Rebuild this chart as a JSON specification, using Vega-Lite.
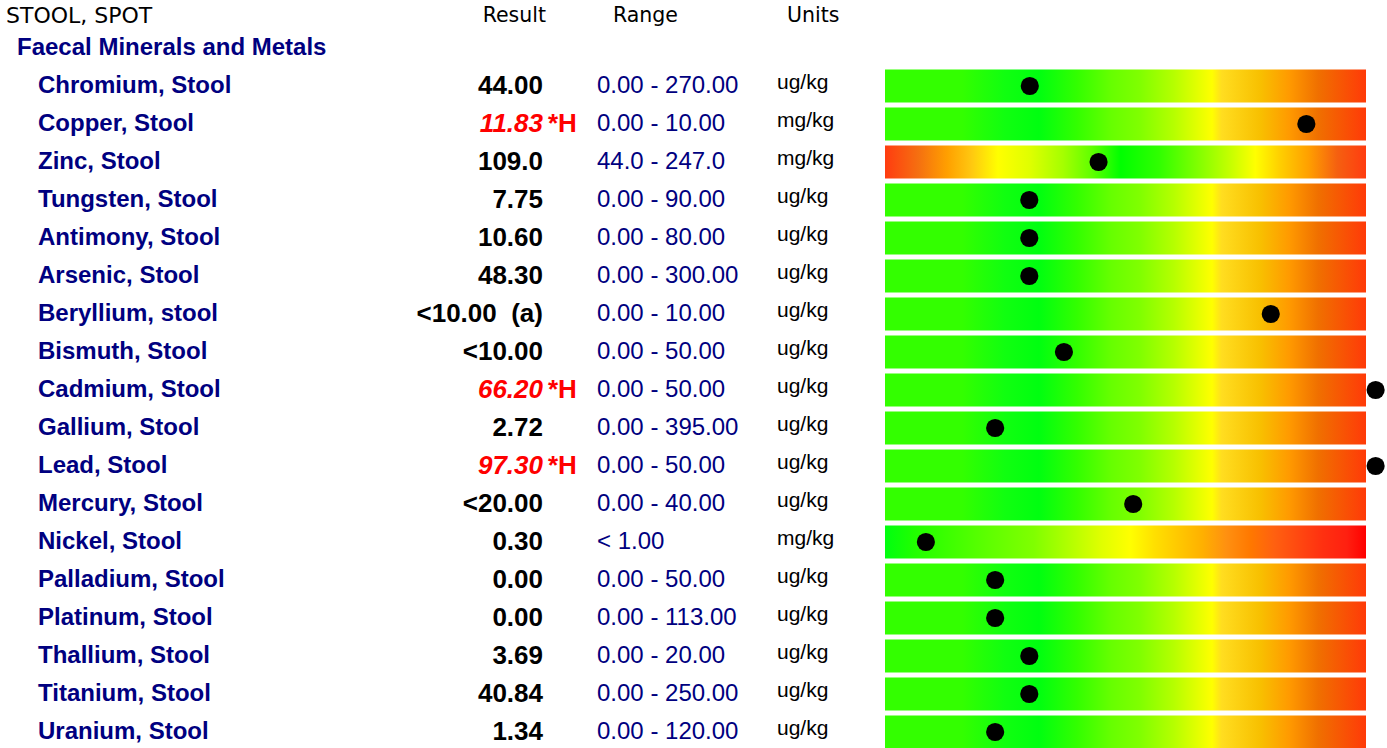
{
  "$schema": "https://vega.github.io/schema/vega-lite/v6.json",
  "background": "white",
  "padding": {"left": 6, "top": 4, "right": 0, "bottom": 0},
  "bounds": "flush",
  "spacing": 0,
  "config": {
    "view": {"stroke": null},
    "title": {"font": "DejaVu Sans", "fontWeight": "normal", "fontSize": 20.5, "color": "#000000", "frame": "group", "offset": 1.5}
  },
  "datasets": {
    "rows": [
      {"id": 0, "kind": "section", "name": "Faecal Minerals and Metals", "result": "", "flag": "", "high": false, "range": "", "units": "", "pos": null, "band": ""},
      {"id": 1, "kind": "item", "name": "Chromium, Stool", "result": "44.00", "flag": "", "high": false, "range": "0.00 - 270.00", "units": "ug/kg", "pos": 0.301, "band": "std"},
      {"id": 2, "kind": "item", "name": "Copper, Stool", "result": "11.83", "flag": "*H", "high": true, "range": "0.00 - 10.00", "units": "mg/kg", "pos": 0.876, "band": "std"},
      {"id": 3, "kind": "item", "name": "Zinc, Stool", "result": "109.0", "flag": "", "high": false, "range": "44.0 - 247.0", "units": "mg/kg", "pos": 0.444, "band": "zinc"},
      {"id": 4, "kind": "item", "name": "Tungsten, Stool", "result": "7.75", "flag": "", "high": false, "range": "0.00 - 90.00", "units": "ug/kg", "pos": 0.3, "band": "std"},
      {"id": 5, "kind": "item", "name": "Antimony, Stool", "result": "10.60", "flag": "", "high": false, "range": "0.00 - 80.00", "units": "ug/kg", "pos": 0.3, "band": "std"},
      {"id": 6, "kind": "item", "name": "Arsenic, Stool", "result": "48.30", "flag": "", "high": false, "range": "0.00 - 300.00", "units": "ug/kg", "pos": 0.3, "band": "std"},
      {"id": 7, "kind": "item", "name": "Beryllium, stool", "result": "<10.00 \u00a0(a)", "flag": "", "high": false, "range": "0.00 - 10.00", "units": "ug/kg", "pos": 0.802, "band": "std"},
      {"id": 8, "kind": "item", "name": "Bismuth, Stool", "result": "<10.00", "flag": "", "high": false, "range": "0.00 - 50.00", "units": "ug/kg", "pos": 0.372, "band": "std"},
      {"id": 9, "kind": "item", "name": "Cadmium, Stool", "result": "66.20", "flag": "*H", "high": true, "range": "0.00 - 50.00", "units": "ug/kg", "pos": 1.02, "band": "std"},
      {"id": 10, "kind": "item", "name": "Gallium, Stool", "result": "2.72", "flag": "", "high": false, "range": "0.00 - 395.00", "units": "ug/kg", "pos": 0.229, "band": "std"},
      {"id": 11, "kind": "item", "name": "Lead, Stool", "result": "97.30", "flag": "*H", "high": true, "range": "0.00 - 50.00", "units": "ug/kg", "pos": 1.02, "band": "std"},
      {"id": 12, "kind": "item", "name": "Mercury, Stool", "result": "<20.00", "flag": "", "high": false, "range": "0.00 - 40.00", "units": "ug/kg", "pos": 0.516, "band": "std"},
      {"id": 13, "kind": "item", "name": "Nickel, Stool", "result": "0.30", "flag": "", "high": false, "range": "< 1.00", "units": "mg/kg", "pos": 0.085, "band": "nickel"},
      {"id": 14, "kind": "item", "name": "Palladium, Stool", "result": "0.00", "flag": "", "high": false, "range": "0.00 - 50.00", "units": "ug/kg", "pos": 0.229, "band": "std"},
      {"id": 15, "kind": "item", "name": "Platinum, Stool", "result": "0.00", "flag": "", "high": false, "range": "0.00 - 113.00", "units": "ug/kg", "pos": 0.229, "band": "std"},
      {"id": 16, "kind": "item", "name": "Thallium, Stool", "result": "3.69", "flag": "", "high": false, "range": "0.00 - 20.00", "units": "ug/kg", "pos": 0.3, "band": "std"},
      {"id": 17, "kind": "item", "name": "Titanium, Stool", "result": "40.84", "flag": "", "high": false, "range": "0.00 - 250.00", "units": "ug/kg", "pos": 0.3, "band": "std"},
      {"id": 18, "kind": "item", "name": "Uranium, Stool", "result": "1.34", "flag": "", "high": false, "range": "0.00 - 120.00", "units": "ug/kg", "pos": 0.229, "band": "std"}
    ]
  },
  "hconcat": [
    {
      "width": 394, "height": 719.5,
      "title": {"text": "STOOL, SPOT", "anchor": "start", "fontSize": 22},
      "data": {"name": "rows"},
      "layer": [
        {
          "transform": [{"filter": "datum.kind === 'section'"}],
          "mark": {"type": "text", "x": 0, "dx": 11, "align": "left", "baseline": "middle", "font": "Liberation Sans", "fontWeight": "bold", "fontSize": 24, "color": "#000080"},
          "encoding": {
            "y": {"field": "id", "type": "ordinal", "axis": null, "scale": {"type": "band", "domain": [0,1,2,3,4,5,6,7,8,9,10,11,12,13,14,15,16,17,18], "paddingInner": 0.1316, "paddingOuter": 0.0329, "align": 1}},
            "text": {"field": "name"}
          }
        },
        {
          "transform": [{"filter": "datum.kind === 'item'"}],
          "mark": {"type": "text", "x": 0, "dx": 32, "align": "left", "baseline": "middle", "font": "Liberation Sans", "fontWeight": "bold", "fontSize": 24, "color": "#000080"},
          "encoding": {
            "y": {"field": "id", "type": "ordinal", "axis": null, "scale": {"type": "band", "domain": [0,1,2,3,4,5,6,7,8,9,10,11,12,13,14,15,16,17,18], "paddingInner": 0.1316, "paddingOuter": 0.0329, "align": 1}},
            "text": {"field": "name"}
          }
        }
      ]
    },
    {
      "width": 143, "height": 719.5,
      "title": {"text": "Result", "anchor": "end", "dx": 3, "dy": -1},
      "data": {"name": "rows"},
      "layer": [
        {
          "transform": [{"filter": "datum.kind === 'item' && !datum.high"}],
          "mark": {"type": "text", "x": "width", "align": "right", "baseline": "middle", "font": "Liberation Sans", "fontWeight": "bold", "fontSize": 26, "color": "#000000"},
          "encoding": {
            "y": {"field": "id", "type": "ordinal", "axis": null, "scale": {"type": "band", "domain": [0,1,2,3,4,5,6,7,8,9,10,11,12,13,14,15,16,17,18], "paddingInner": 0.1316, "paddingOuter": 0.0329, "align": 1}},
            "text": {"field": "result"}
          }
        },
        {
          "transform": [{"filter": "datum.high"}],
          "mark": {"type": "text", "x": "width", "align": "right", "baseline": "middle", "font": "Liberation Sans", "fontWeight": "bold", "fontStyle": "italic", "fontSize": 26, "color": "#ff0000"},
          "encoding": {
            "y": {"field": "id", "type": "ordinal", "axis": null, "scale": {"type": "band", "domain": [0,1,2,3,4,5,6,7,8,9,10,11,12,13,14,15,16,17,18], "paddingInner": 0.1316, "paddingOuter": 0.0329, "align": 1}},
            "text": {"field": "result"}
          }
        },
        {
          "transform": [{"filter": "datum.high"}],
          "mark": {"type": "text", "x": "width", "dx": 5, "align": "left", "baseline": "middle", "font": "Liberation Sans", "fontWeight": "bold", "fontSize": 26, "color": "#ff0000"},
          "encoding": {
            "y": {"field": "id", "type": "ordinal", "axis": null, "scale": {"type": "band", "domain": [0,1,2,3,4,5,6,7,8,9,10,11,12,13,14,15,16,17,18], "paddingInner": 0.1316, "paddingOuter": 0.0329, "align": 1}},
            "text": {"field": "flag"}
          }
        }
      ]
    },
    {
      "width": 234, "height": 719.5,
      "title": {"text": "Range", "anchor": "start", "dx": 70, "dy": -1},
      "data": {"name": "rows"},
      "transform": [{"filter": "datum.kind === 'item'"}],
      "mark": {"type": "text", "x": 0, "dx": 54, "align": "left", "baseline": "middle", "font": "Liberation Sans", "fontSize": 24, "color": "#000080"},
      "encoding": {
        "y": {"field": "id", "type": "ordinal", "axis": null, "scale": {"type": "band", "domain": [0,1,2,3,4,5,6,7,8,9,10,11,12,13,14,15,16,17,18], "paddingInner": 0.1316, "paddingOuter": 0.0329, "align": 1}},
        "text": {"field": "range"}
      }
    },
    {
      "width": 108, "height": 719.5,
      "title": {"text": "Units", "anchor": "start", "dx": 10, "dy": -1},
      "data": {"name": "rows"},
      "transform": [{"filter": "datum.kind === 'item'"}],
      "mark": {"type": "text", "x": 0, "dy": -3, "align": "left", "baseline": "middle", "font": "Liberation Sans", "fontSize": 21, "color": "#000000"},
      "encoding": {
        "y": {"field": "id", "type": "ordinal", "axis": null, "scale": {"type": "band", "domain": [0,1,2,3,4,5,6,7,8,9,10,11,12,13,14,15,16,17,18], "paddingInner": 0.1316, "paddingOuter": 0.0329, "align": 1}},
        "text": {"field": "units"}
      }
    },
    {
      "width": 481, "height": 719.5,
      "data": {"name": "rows"},
      "layer": [
        {
          "transform": [{"filter": "datum.band === 'std'"}],
          "mark": {"type": "bar", "color": {"gradient": "linear", "x1": 0, "x2": 1, "y1": 0, "y2": 0, "stops": [
            {"offset": 0, "color": "#33ff00"}, {"offset": 0.16, "color": "#33ff00"}, {"offset": 0.25, "color": "#10ff10"}, {"offset": 0.32, "color": "#00ff10"}, {"offset": 0.4, "color": "#33ff00"}, {"offset": 0.47, "color": "#66ff00"}, {"offset": 0.53, "color": "#80ff00"}, {"offset": 0.6, "color": "#b5ff00"}, {"offset": 0.68, "color": "#ffff00"}, {"offset": 0.7, "color": "#ffdd20"}, {"offset": 0.78, "color": "#f8c000"}, {"offset": 0.84, "color": "#ff9a00"}, {"offset": 0.9, "color": "#f07000"}, {"offset": 1, "color": "#ff3a08"}]}},
          "encoding": {
            "y": {"field": "id", "type": "ordinal", "axis": null, "scale": {"type": "band", "domain": [0,1,2,3,4,5,6,7,8,9,10,11,12,13,14,15,16,17,18], "paddingInner": 0.1316, "paddingOuter": 0.0329, "align": 1}},
            "x": {"datum": 0, "type": "quantitative", "axis": null, "scale": {"domain": [0, 1], "nice": false, "zero": false}},
            "x2": {"datum": 1}
          }
        },
        {
          "transform": [{"filter": "datum.band === 'zinc'"}],
          "mark": {"type": "bar", "color": {"gradient": "linear", "x1": 0, "x2": 1, "y1": 0, "y2": 0, "stops": [
            {"offset": 0, "color": "#ff3c10"}, {"offset": 0.07, "color": "#f57010"}, {"offset": 0.13, "color": "#ffa000"}, {"offset": 0.18, "color": "#ffc810"}, {"offset": 0.235, "color": "#ffff00"}, {"offset": 0.3, "color": "#e0ff00"}, {"offset": 0.37, "color": "#a5ff00"}, {"offset": 0.43, "color": "#60ff00"}, {"offset": 0.49, "color": "#00ff00"}, {"offset": 0.57, "color": "#30ff00"}, {"offset": 0.65, "color": "#80ff00"}, {"offset": 0.72, "color": "#c8ff00"}, {"offset": 0.77, "color": "#ffff00"}, {"offset": 0.82, "color": "#ffd000"}, {"offset": 0.88, "color": "#ffa000"}, {"offset": 0.94, "color": "#f56010"}, {"offset": 1, "color": "#ff3c10"}]}},
          "encoding": {
            "y": {"field": "id", "type": "ordinal", "axis": null, "scale": {"type": "band", "domain": [0,1,2,3,4,5,6,7,8,9,10,11,12,13,14,15,16,17,18], "paddingInner": 0.1316, "paddingOuter": 0.0329, "align": 1}},
            "x": {"datum": 0, "type": "quantitative", "axis": null, "scale": {"domain": [0, 1], "nice": false, "zero": false}},
            "x2": {"datum": 1}
          }
        },
        {
          "transform": [{"filter": "datum.band === 'nickel'"}],
          "mark": {"type": "bar", "color": {"gradient": "linear", "x1": 0, "x2": 1, "y1": 0, "y2": 0, "stops": [
            {"offset": 0, "color": "#00ff10"}, {"offset": 0.06, "color": "#20ff00"}, {"offset": 0.22, "color": "#60ff00"}, {"offset": 0.31, "color": "#80ff00"}, {"offset": 0.38, "color": "#b0ff00"}, {"offset": 0.45, "color": "#e0ff00"}, {"offset": 0.51, "color": "#ffff00"}, {"offset": 0.56, "color": "#ffe000"}, {"offset": 0.61, "color": "#ffc800"}, {"offset": 0.66, "color": "#ffb000"}, {"offset": 0.71, "color": "#ff9010"}, {"offset": 0.76, "color": "#ff7800"}, {"offset": 0.81, "color": "#ff6010"}, {"offset": 0.86, "color": "#ff4810"}, {"offset": 0.91, "color": "#ff3010"}, {"offset": 0.96, "color": "#ff2010"}, {"offset": 1, "color": "#ff0000"}]}},
          "encoding": {
            "y": {"field": "id", "type": "ordinal", "axis": null, "scale": {"type": "band", "domain": [0,1,2,3,4,5,6,7,8,9,10,11,12,13,14,15,16,17,18], "paddingInner": 0.1316, "paddingOuter": 0.0329, "align": 1}},
            "x": {"datum": 0, "type": "quantitative", "axis": null, "scale": {"domain": [0, 1], "nice": false, "zero": false}},
            "x2": {"datum": 1}
          }
        },
        {
          "transform": [{"filter": "datum.kind === 'item'"}],
          "mark": {"type": "circle", "color": "#000000", "size": 330, "opacity": 1},
          "encoding": {
            "y": {"field": "id", "type": "ordinal", "axis": null, "scale": {"type": "band", "domain": [0,1,2,3,4,5,6,7,8,9,10,11,12,13,14,15,16,17,18], "paddingInner": 0.1316, "paddingOuter": 0.0329, "align": 1}},
            "x": {"field": "pos", "type": "quantitative", "axis": null, "scale": {"domain": [0, 1], "nice": false, "zero": false}}
          }
        }
      ]
    }
  ]
}
